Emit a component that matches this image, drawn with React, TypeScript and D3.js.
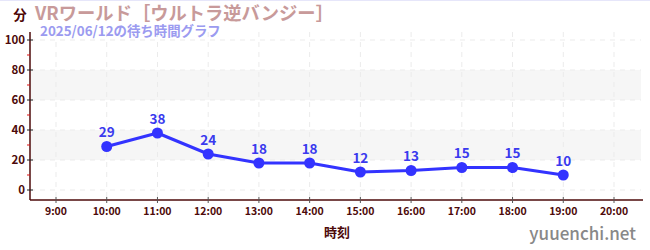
import React from "react";
import * as d3 from "d3";

const hours = [10, 11, 12, 13, 14, 15, 16, 17, 18, 19];
const waits = [29, 38, 24, 18, 18, 12, 13, 15, 15, 10];
const xTicks = [9, 10, 11, 12, 13, 14, 15, 16, 17, 18, 19, 20];
const yTicks = [0, 20, 40, 60, 80, 100];
const yMinor = [10, 30, 50, 70, 90];
const bands = [[20, 40], [60, 80]];
const title = "VRワールド［ウルトラ逆バンジー］";
const subtitle = "2025/06/12の待ち時間グラフ";

const W = 650, H = 250;
const left = 30, right = 641, top = 32, bottom = 200;
const font = "'Noto Sans CJK JP', 'Noto Sans', sans-serif";

export default function App() {
  const x = d3.scaleLinear().domain([9, 20]).range([56, 614]);
  const y = d3.scaleLinear().domain([0, 100]).range([190, 40]);
  const line = d3.line<number>().x((_, i) => x(hours[i])).y((d) => y(d));
  const axisColor = "#4d0a0a";
  return (
    <svg width={W} height={H} style={{ position: "absolute", left: 0, top: 0 }} fontFamily={font}>
      <rect x={0} y={0} width={W} height={H} fill="#fff" />
      <line x1={0} x2={W} y1={0.5} y2={0.5} stroke="#e6e6fa" />
      {bands.map(([a, b]) => (
        <rect key={a} x={left} width={right - left} y={y(b)} height={y(a) - y(b)} fill="#f6f6f6" />
      ))}
      {yTicks.map((t) => (
        <line key={t} x1={left} x2={right} y1={y(t)} y2={y(t)} stroke="#ebebeb" strokeDasharray="5,5" />
      ))}
      {xTicks.map((t) => (
        <line key={t} x1={x(t)} x2={x(t)} y1={top} y2={bottom} stroke="#ebebeb" strokeDasharray="5,5" />
      ))}
      <line x1={left} x2={left} y1={top} y2={bottom} stroke={axisColor} strokeWidth={1.5} />
      <line x1={left} x2={right + 2} y1={bottom} y2={bottom} stroke={axisColor} strokeWidth={1.5} />
      {yMinor.map((t) => (
        <line key={t} x1={left - 3} x2={left} y1={y(t)} y2={y(t)} stroke="#dd1111" strokeWidth={1} />
      ))}
      {yTicks.map((t) => (
        <g key={t}>
          <line x1={left - 3} x2={left + 3} y1={y(t)} y2={y(t)} stroke="#222" strokeWidth={1} />
          <text x={left - 5} y={y(t)} dy="0.35em" textAnchor="end" fontSize={11.5} fontWeight="bold" fill={axisColor}>
            {t}
          </text>
        </g>
      ))}
      {xTicks.map((t) => (
        <g key={t}>
          <line x1={x(t)} x2={x(t)} y1={bottom - 3} y2={bottom + 3} stroke="#555" strokeWidth={1} />
          <text x={x(t)} y={bottom + 15} textAnchor="middle" fontSize={10.5} fontWeight="bold" fill={axisColor}>
            {`${t}:00`}
          </text>
        </g>
      ))}
      <path d={line(waits) || ""} fill="none" stroke="#3333ff" strokeWidth={3} strokeLinejoin="round" />
      {waits.map((v, i) => (
        <g key={i}>
          <circle cx={x(hours[i])} cy={y(v)} r={5.5} fill="#3333ff" />
          <text x={x(hours[i])} y={y(v) - 9.5} textAnchor="middle" fontSize={13.5} fontWeight="bold" fill="#3a3aee">
            {v}
          </text>
        </g>
      ))}
      <text x={20} y={20} textAnchor="middle" fontSize={13.5} fontWeight="bold" fill="#4d0505">分</text>
      <text x={35} y={20} fontSize={18.3} fontWeight="bold" fill="#c89a9a">{title}</text>
      <text x={40} y={36} fontSize={13.4} fontWeight="bold" fill="#9b9bf0">{subtitle}</text>
      <text x={337} y={237} textAnchor="middle" fontSize={13} fontWeight="bold" fill={axisColor}>時刻</text>
      <text x={636} y={240} textAnchor="end" fontSize={17} fontWeight={500} fill="#888">yuuenchi.net</text>
    </svg>
  );
}
